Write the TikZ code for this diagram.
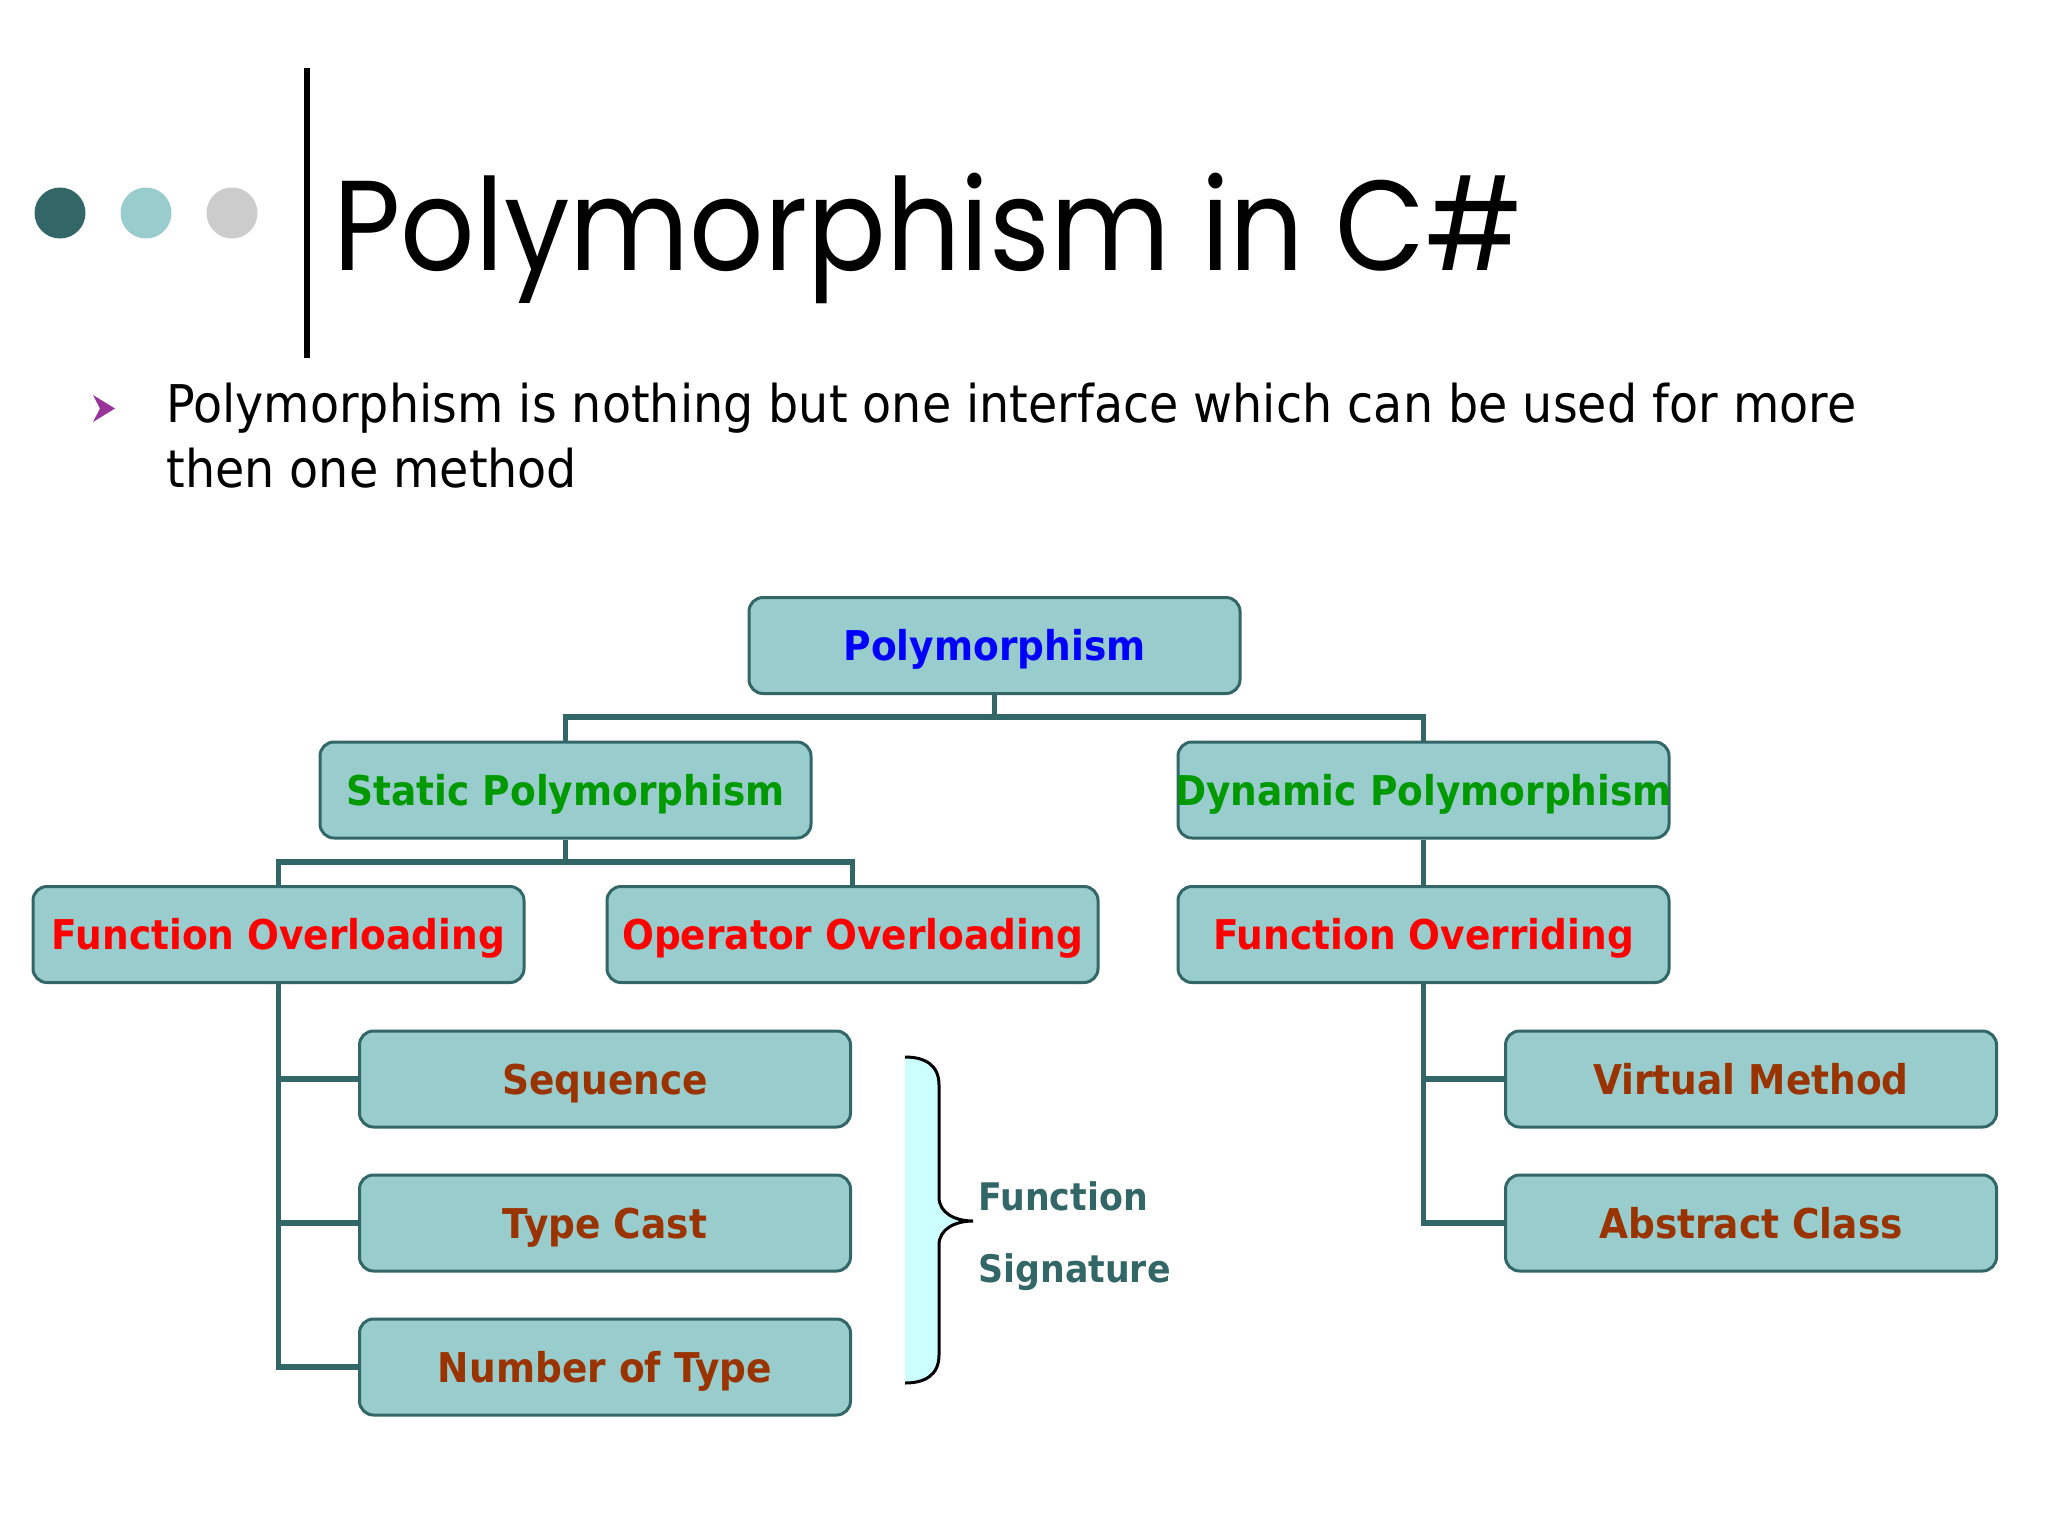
\documentclass[tikz,border=0pt]{standalone}
\usepackage{fontspec}
\newfontfamily\bodyfont{DejaVu Sans}[FakeStretch=0.915]
\newfontfamily\titlefont{Poppins}[FakeStretch=0.91]
\definecolor{boxfill}{HTML}{99CCCC}
\definecolor{tealdark}{HTML}{336666}
\definecolor{dotgrey}{HTML}{CCCCCC}
\definecolor{bracefill}{HTML}{CCFFFF}
\definecolor{greentxt}{HTML}{009900}
\definecolor{browntxt}{HTML}{993300}
\definecolor{bluetxt}{HTML}{0000FF}
\definecolor{redtxt}{HTML}{FF0000}
\definecolor{bulletpurple}{HTML}{993399}
\newcommand\boxfont{\bodyfont\bfseries\fontsize{20.5pt}{24pt}\selectfont}
\newcommand\sigfont{\bodyfont\bfseries\fontsize{19pt}{23pt}\selectfont}
\newcommand\bulfont{\bodyfont\fontsize{26pt}{32pt}\selectfont}
\newcommand\ttlfont{\titlefont\fontsize{64pt}{78pt}\selectfont}
\newcommand\bt[1]{\makebox[0pt]{#1}}
\begin{document}
\begin{tikzpicture}[x=0.5pt,y=-0.5pt,
  box/.style={draw=tealdark, line width=1.5pt, fill=boxfill, rounded corners=7pt,
    minimum width=245.5pt, minimum height=48pt, inner sep=0pt, font=\boxfont,
    text height=15pt, text depth=0pt},
  conn/.style={draw=tealdark, line width=2.75pt},
  dot/.style={circle, minimum size=25.5pt, inner sep=0pt}]
\useasboundingbox (0,0) rectangle (2048,1536);
\fill[white] (0,0) rectangle (2048,1536);

% title area
\node[dot, fill=tealdark] (d1) at (60,213) {};
\node[dot, fill=boxfill] (d2) at (146,213) {};
\node[dot, fill=dotgrey] (d3) at (232,213) {};
\draw[line width=3pt] (307,68) -- (307,358);
\node[anchor=base west, inner sep=0pt, font=\ttlfont] (title) at (333,270) {Polymorphism in C\#};

% bullet
\fill[bulletpurple] (93,395) -- (115,408.5) -- (93,422) -- (100,408.5) -- cycle;
\node[anchor=base west, inner sep=0pt, font=\bulfont] (bul1) at (166,422) {Polymorphism is nothing but one interface which can be used for more};
\node[anchor=base west, inner sep=0pt, font=\bulfont] (bul2) at (166,487) {then one method};

% boxes
\node[box, text=bluetxt] (poly) at (994.5,645.5) {\bt{Polymorphism}};
\node[box, text=greentxt] (stat) at (565.5,790) {\bt{Static Polymorphism}};
\node[box, text=greentxt] (dyn) at (1423.5,790) {\bt{Dynamic Polymorphism}};
\node[box, text=redtxt] (fol) at (278.5,934.5) {\bt{Function Overloading}};
\node[box, text=redtxt] (ool) at (852.5,934.5) {\bt{Operator Overloading}};
\node[box, text=redtxt] (fov) at (1423.5,934.5) {\bt{Function Overriding}};
\node[box, text=browntxt] (seq) at (605,1079) {\bt{Sequence}};
\node[box, text=browntxt] (tc) at (605,1223) {\bt{Type Cast}};
\node[box, text=browntxt] (nt) at (605,1367) {\bt{Number of Type}};
\node[box, text=browntxt] (vm) at (1751,1079) {\bt{Virtual Method}};
\node[box, text=browntxt] (ac) at (1751,1223) {\bt{Abstract Class}};

% connectors
\coordinate (bus1) at (994.5,717);
\coordinate (bus2) at (565.5,862);
\draw[conn] (poly.south) -- (bus1);
\draw[conn] (stat.north) |- (bus1);
\draw[conn] (dyn.north) |- (bus1);
\draw[conn] (stat.south) -- (bus2);
\draw[conn] (fol.north) |- (bus2);
\draw[conn] (ool.north) |- (bus2);
\draw[conn] (dyn.south) -- (fov.north);
\draw[conn] (fol.south) |- (seq.west);
\draw[conn] (fol.south) |- (tc.west);
\draw[conn] (fol.south) |- (nt.west);
\draw[conn] (fov.south) |- (vm.west);
\draw[conn] (fov.south) |- (ac.west);

% brace
\fill[bracefill] (905,1057) .. controls (925,1057) and (939,1065) .. (939,1085)
  -- (939,1197) .. controls (939,1213) and (955,1221) .. (973,1221)
  .. controls (955,1221) and (939,1229) .. (939,1245)
  -- (939,1355) .. controls (939,1375) and (925,1383) .. (905,1383) -- cycle;
\draw[line width=1.5pt] (905,1057) .. controls (925,1057) and (939,1065) .. (939,1085)
  -- (939,1197) .. controls (939,1213) and (955,1221) .. (973,1221)
  .. controls (955,1221) and (939,1229) .. (939,1245)
  -- (939,1355) .. controls (939,1375) and (925,1383) .. (905,1383);
\node[anchor=base west, inner sep=0pt, font=\sigfont, text=tealdark] (sig1) at (978,1210) {Function};
\node[anchor=base west, inner sep=0pt, font=\sigfont, text=tealdark] (sig2) at (978,1282) {Signature};
\end{tikzpicture}
\end{document}
